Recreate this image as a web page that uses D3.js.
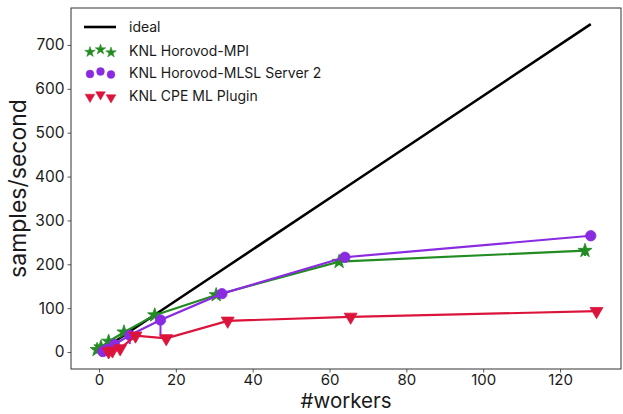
<!DOCTYPE html>
<html><head><meta charset="utf-8">
<script src="https://cdn.jsdelivr.net/npm/d3@7"></script>
<style>body{margin:0;background:#fff}svg{display:block}text{font-family:Inter,"DejaVu Sans",sans-serif}</style>
</head><body>
<svg id="c" width="623" height="414"></svg>
<script>
const workers = [1, 2, 4, 8, 16, 32, 64, 128];
const ideal = [5.84, 11.7, 23.4, 46.7, 93.4, 186.9, 373.8, 747.5];
const horovodMPI = [5, 11, 24, 45, 84, 130, 206, 231];
const horovodMPIErrLo = [1, 1, 2, 2, 3, 3, 8, 12];
const horovodMPIErrHi = [1, 1, 2, 2, 3, 3, 3, 6];
const horovodMLSL = [1, 6, 17, 38, 73, 133, 216, 265];
const horovodMLSLErrLo = [0, 0, 3, 20, 38, 2, 2, 2];
const horovodMLSLErrHi = [0, 0, 3, 4, 2, 2, 2, 2];
const cpePlugin = [1, 3, 8, 37, 31, 71, 80, 93];
const cpePluginErrLo = [1, 1, 2, 6, 5, 3, 3, 3];
const cpePluginErrHi = [1, 1, 2, 2, 2, 2, 2, 2];
const xTicks = [0, 20, 40, 60, 80, 100, 120];
const yTicks = [0, 100, 200, 300, 400, 500, 600, 700];
const legendLabels = ["ideal", "KNL Horovod-MPI", "KNL Horovod-MLSL Server 2", "KNL CPE ML Plugin"];

const L = 71, R = 621, T = 8, B = 369;
const x = d3.scaleLinear().domain([-7.29, 135.87]).range([L, R]);
const y = d3.scaleLinear().domain([-38.8, 784.3]).range([B, T]);
const svg = d3.select("#c");

const series = [
  {vals: horovodMPI, lo: horovodMPIErrLo, hi: horovodMPIErrHi, dx: -1.5, color: "#228b22", shape: "star"},
  {vals: horovodMLSL, lo: horovodMLSLErrLo, hi: horovodMLSLErrHi, dx: 0, color: "#8a2be2", shape: "circle"},
  {vals: cpePlugin, lo: cpePluginErrLo, hi: cpePluginErrHi, dx: 1.5, color: "#dc143c", shape: "tri"}
];

function marker(shape, scale) {
  const s = scale || 1;
  if (shape === "star") return d3.symbol(d3.symbolStar, 62 * s * s)();
  if (shape === "circle") return d3.symbol(d3.symbolCircle, 85 * s * s)();
  return d3.symbol(d3.symbolTriangle, 72 * s * s)();
}
function rot(shape) { return shape === "tri" ? " rotate(180)" : ""; }

// ideal line
svg.append("path")
  .attr("d", d3.line().x((d, i) => x(workers[i])).y(d => y(d))(ideal))
  .attr("fill", "none").attr("stroke", "#000").attr("stroke-width", 2.6);

series.forEach(s => {
  const g = svg.append("g");
  g.append("path")
    .attr("d", d3.line().x((d, i) => x(workers[i] + s.dx)).y(d => y(d))(s.vals))
    .attr("fill", "none").attr("stroke", s.color).attr("stroke-width", 2.2);
  g.selectAll("line.err").data(s.vals).join("line")
    .attr("x1", (d, i) => x(workers[i] + s.dx)).attr("x2", (d, i) => x(workers[i] + s.dx))
    .attr("y1", (d, i) => y(d - s.lo[i])).attr("y2", (d, i) => y(d + s.hi[i]))
    .attr("stroke", s.color).attr("stroke-width", 2);
  g.selectAll("path.m").data(s.vals).join("path")
    .attr("d", marker(s.shape))
    .attr("transform", (d, i) => `translate(${x(workers[i] + s.dx)},${y(d)})` + rot(s.shape))
    .attr("fill", s.color).attr("stroke", s.color).attr("stroke-width", 0.8).attr("stroke-linejoin", "round");
});

// axes
const xa = svg.append("g").attr("transform", `translate(0,${B})`)
  .call(d3.axisBottom(x).tickValues(xTicks).tickSize(3.5).tickPadding(1.5).tickFormat(d3.format("d")));
const ya = svg.append("g").attr("transform", `translate(${L},0)`)
  .call(d3.axisLeft(y).tickValues(yTicks).tickSize(3.5).tickPadding(3).tickFormat(d3.format("d")));
[xa, ya].forEach(a => {
  a.select(".domain").remove();
  a.selectAll("line").attr("stroke", "#333").attr("stroke-width", 0.8);
  a.selectAll("text").attr("font-size", 15.5).attr("fill", "#1a1a1a");
});
xa.selectAll("text").attr("font-size", 15);
svg.append("rect").attr("x", L).attr("y", T).attr("width", R - L).attr("height", B - T)
  .attr("fill", "none").attr("stroke", "#333").attr("stroke-width", 1);

svg.append("text").attr("x", (L + R) / 2).attr("y", 408).attr("text-anchor", "middle")
  .attr("font-size", 20.5).attr("fill", "#1a1a1a").text("#workers");
svg.append("text").attr("transform", `translate(26,${(T + B) / 2}) rotate(-90)`).attr("text-anchor", "middle")
  .attr("font-size", 23).attr("fill", "#1a1a1a").text("samples/second");

// legend
const lg = svg.append("g");
const ly = [27, 51, 73, 96];
lg.append("line").attr("x1", 84).attr("x2", 116).attr("y1", ly[0]).attr("y2", ly[0])
  .attr("stroke", "#000").attr("stroke-width", 2.6);
const offs = [1, -1.5, 1.5];
const mx = [90, 100.5, 111];
series.forEach((s, k) => {
  mx.forEach((xx, j) => {
    lg.append("path").attr("d", marker(s.shape, 0.75))
      .attr("transform", `translate(${xx},${ly[k + 1] + offs[j]})` + rot(s.shape))
      .attr("fill", s.color).attr("stroke", s.color).attr("stroke-width", 0.5).attr("stroke-linejoin", "round");
  });
});
legendLabels.forEach((t, i) => {
  lg.append("text").attr("x", 129).attr("y", ly[i]).attr("dy", "0.35em")
    .attr("font-size", 14).attr("fill", "#1a1a1a").text(t);
});
</script>
</body></html>
